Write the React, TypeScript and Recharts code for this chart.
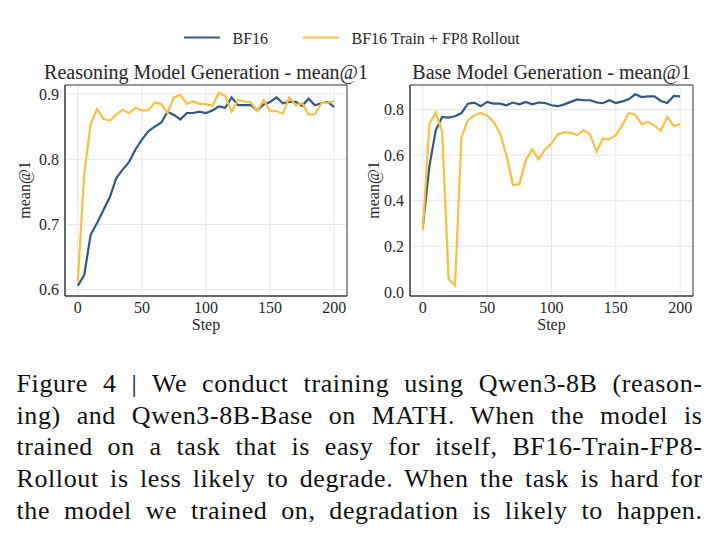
import { LineChart, Line, XAxis, YAxis, CartesianGrid, ReferenceArea } from "recharts";

const steps = [
  0, 5, 10, 15, 20, 25, 30, 35, 40, 45, 50, 55, 60, 65, 70, 75, 80, 85, 90, 95, 100,
  105, 110, 115, 120, 125, 130, 135, 140, 145, 150, 155, 160, 165, 170, 175, 180, 185, 190, 195, 200,
];

// Reasoning model (Qwen3-8B)
const reasonBf16 = [
  0.606, 0.622, 0.684, 0.702, 0.722, 0.742, 0.771, 0.784, 0.796, 0.815, 0.83, 0.843, 0.85, 0.856,
  0.873, 0.868, 0.861, 0.871, 0.871, 0.873, 0.871, 0.875, 0.881, 0.879, 0.895, 0.883, 0.883, 0.883,
  0.875, 0.884, 0.888, 0.895, 0.886, 0.888, 0.888, 0.882, 0.893, 0.883, 0.886, 0.888, 0.88,
];
const reasonFp8 = [
  0.613, 0.778, 0.854, 0.877, 0.862, 0.859, 0.869, 0.876, 0.871, 0.879, 0.875, 0.875, 0.887, 0.885,
  0.871, 0.895, 0.899, 0.885, 0.889, 0.885, 0.885, 0.882, 0.902, 0.897, 0.873, 0.891, 0.889, 0.887,
  0.874, 0.891, 0.874, 0.874, 0.87, 0.895, 0.883, 0.886, 0.869, 0.869, 0.886, 0.887, 0.889,
];

// Base model (Qwen3-8B-Base)
const baseBf16 = [
  0.286, 0.549, 0.709, 0.768, 0.765, 0.771, 0.785, 0.826, 0.831, 0.815, 0.834, 0.826, 0.826, 0.819,
  0.831, 0.823, 0.834, 0.823, 0.831, 0.829, 0.819, 0.815, 0.823, 0.834, 0.845, 0.841, 0.841, 0.832,
  0.828, 0.841, 0.829, 0.836, 0.845, 0.867, 0.855, 0.858, 0.858, 0.838, 0.829, 0.86, 0.858,
];
const baseFp8 = [
  0.272, 0.736, 0.787, 0.702, 0.057, 0.029, 0.68, 0.753, 0.775, 0.785, 0.774, 0.746, 0.695, 0.6,
  0.469, 0.472, 0.578, 0.625, 0.582, 0.625, 0.651, 0.691, 0.701, 0.698, 0.688, 0.71, 0.691, 0.615,
  0.673, 0.67, 0.688, 0.731, 0.785, 0.778, 0.736, 0.746, 0.73, 0.707, 0.768, 0.728, 0.736,
];

const stepTicks = [0, 50, 100, 150, 200];
const reasonTicks = [0.6, 0.7, 0.8, 0.9];
const baseTicks = [0, 0.2, 0.4, 0.6, 0.8];

const captionLines = [
  "Figure 4 | We conduct training using Qwen3-8B (reason-",
  "ing) and Qwen3-8B-Base on MATH. When the model is",
  "trained on a task that is easy for itself, BF16-Train-FP8-",
  "Rollout is less likely to degrade. When the task is hard for",
  "the model we trained on, degradation is likely to happen.",
];

const BLUE = "#2e5a87";
const YELLOW = "#fbbf3a";
const FONT = "Liberation Serif, DejaVu Serif, serif";
const TEXT = "#262626";

const toRows = (a: number[], b: number[]) =>
  steps.map((step, i) => ({ step, bf16: a[i], fp8: b[i] }));

interface PanelProps {
  rows: { step: number; bf16: number; fp8: number }[];
  yDomain: [number, number];
  yTicks: number[];
  width: number;
  margin: { top: number; right: number; bottom: number; left: number };
}

function Panel({ rows, yDomain, yTicks, width, margin }: PanelProps) {
  const tick = { fill: TEXT, fontSize: 16, fontFamily: FONT };
  return (
    <LineChart width={width} height={290} data={rows} margin={margin}>
      <CartesianGrid stroke="#e6e6e6" strokeWidth={1} />
      <XAxis
        dataKey="step"
        type="number"
        domain={[-10, 210]}
        ticks={stepTicks}
        allowDataOverflow
        tickLine={false}
        tickSize={4}
        tickMargin={2}
        axisLine={{ stroke: "#3a3a3a" }}
        tick={tick}
        height={30}
      />
      <YAxis
        type="number"
        domain={yDomain}
        ticks={yTicks}
        allowDataOverflow
        tickLine={false}
        tickSize={4}
        tickMargin={2}
        axisLine={{ stroke: "#3a3a3a" }}
        tick={tick}
        tickFormatter={(v: number) => v.toFixed(1)}
        width={40}
      />
      <Line type="linear" dataKey="bf16" stroke={BLUE} strokeWidth={2.2} dot={false} isAnimationActive={false} />
      <Line type="linear" dataKey="fp8" stroke={YELLOW} strokeWidth={2.2} dot={false} isAnimationActive={false} />
      {/* box around the plot */}
      <ReferenceArea
        x1={-10}
        x2={210}
        y1={yDomain[0]}
        y2={yDomain[1]}
        fill="none"
        stroke="#3a3a3a"
        strokeWidth={1}
        ifOverflow="visible"
      />
    </LineChart>
  );
}

export default function App() {
  return (
    <div
      style={{
        position: "absolute",
        left: 0,
        top: 0,
        width: 719,
        height: 545,
        background: "#fff",
        fontFamily: FONT,
        overflow: "hidden",
      }}
    >
      <div style={{ position: "absolute", left: 0, top: 60 }}>
        <Panel
          rows={toRows(reasonBf16, reasonFp8)}
          yDomain={[0.59, 0.914]}
          yTicks={reasonTicks}
          width={360}
          margin={{ top: 25, right: 13, bottom: 24, left: 25 }}
        />
      </div>
      <div style={{ position: "absolute", left: 350, top: 60 }}>
        <Panel
          rows={toRows(baseBf16, baseFp8)}
          yDomain={[-0.018, 0.908]}
          yTicks={baseTicks}
          width={369}
          margin={{ top: 25, right: 26, bottom: 24, left: 20 }}
        />
      </div>

      {/* legend, titles and axis labels */}
      <svg
        width={719}
        height={360}
        style={{ position: "absolute", left: 0, top: 0, pointerEvents: "none", fontFamily: FONT }}
        fill={TEXT}
      >
        <line x1={184} x2={220} y1={37.5} y2={37.5} stroke={BLUE} strokeWidth={2.2} />
        <text x={232.5} y={44} fontSize={16}>BF16</text>
        <line x1={303} x2={339} y1={37.5} y2={37.5} stroke={YELLOW} strokeWidth={2.2} />
        <text x={351.5} y={44} fontSize={16}>BF16 Train + FP8 Rollout</text>

        <text x={206} y={79} fontSize={20} textAnchor="middle">
          Reasoning Model Generation - mean@1
        </text>
        <text x={551.5} y={79} fontSize={20} textAnchor="middle">
          Base Model Generation - mean@1
        </text>

        <text x={206} y={330} fontSize={16} textAnchor="middle">Step</text>
        <text x={551.5} y={330} fontSize={16} textAnchor="middle">Step</text>

        <text transform="translate(30,190) rotate(-90)" fontSize={16} textAnchor="middle">mean@1</text>
        <text transform="translate(379,190) rotate(-90)" fontSize={16} textAnchor="middle">mean@1</text>
      </svg>

      <div
        style={{
          position: "absolute",
          left: 16.5,
          top: 368,
          width: 686,
          fontSize: 26,
          letterSpacing: 0.6,
          lineHeight: "31.7px",
          color: "#111",
        }}
      >
        {captionLines.map((line) => (
          <div key={line} style={{ textAlign: "justify", textAlignLast: "justify", whiteSpace: "nowrap" }}>
            {line}
          </div>
        ))}
      </div>
    </div>
  );
}
